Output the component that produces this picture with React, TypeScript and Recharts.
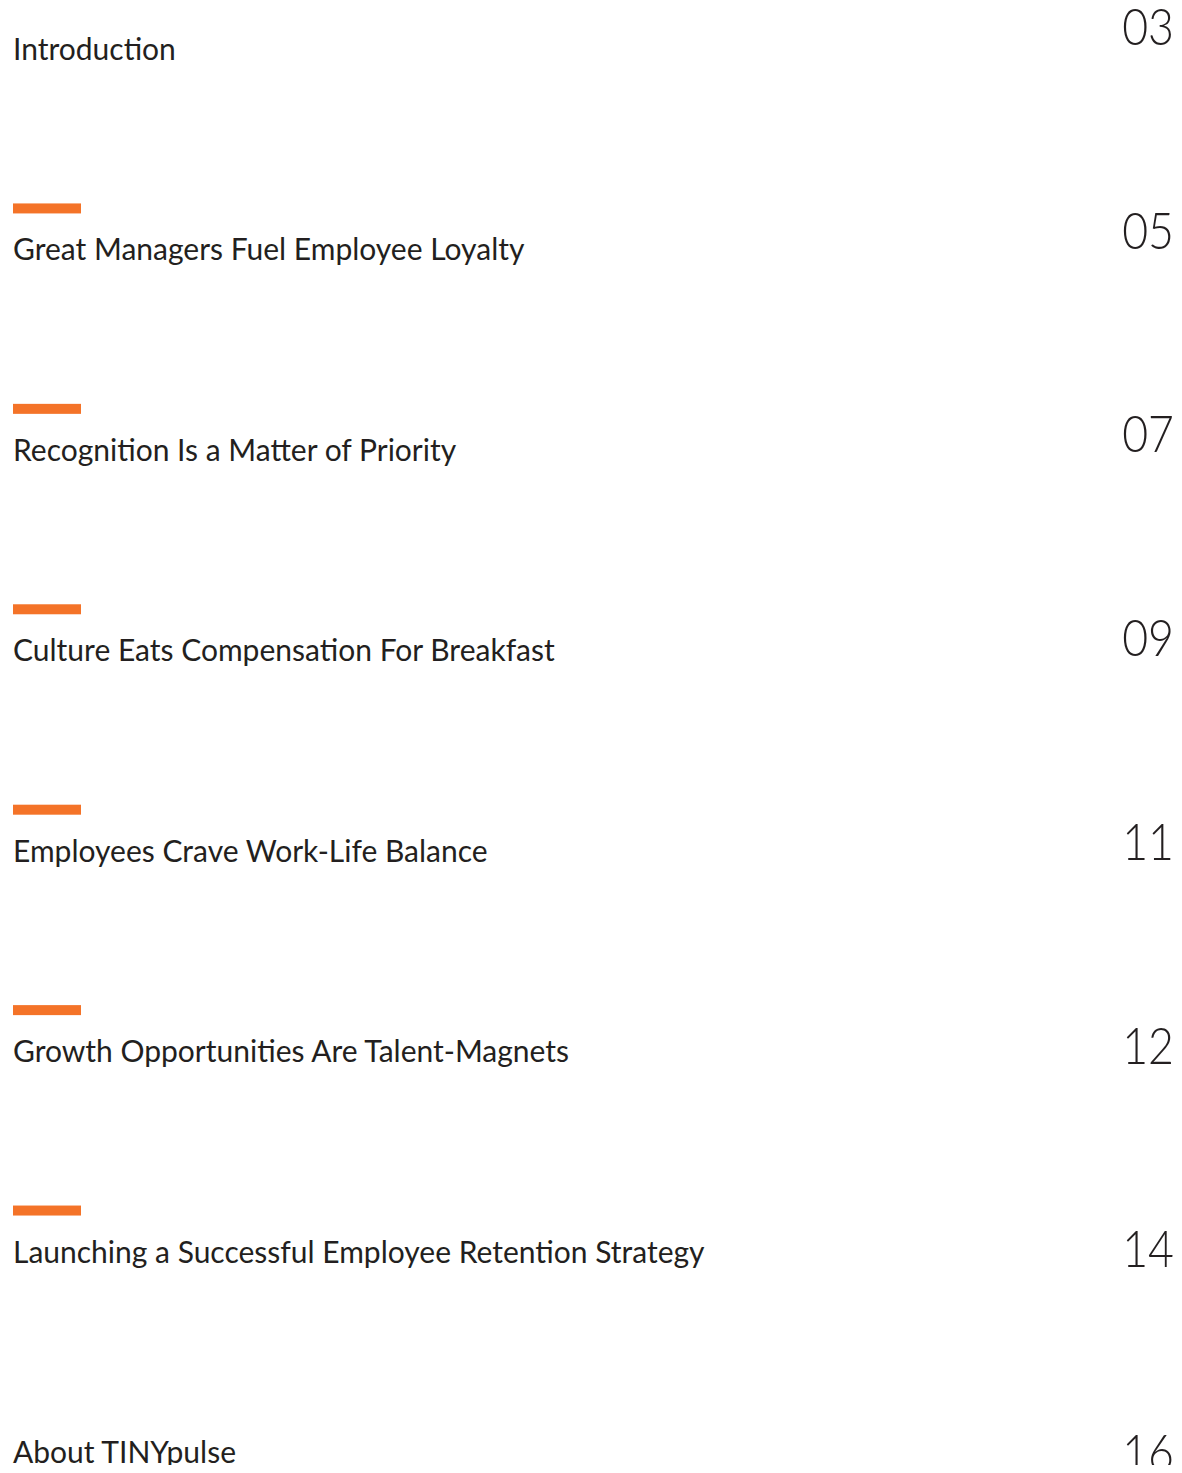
import React from "react";
import { ScatterChart, Scatter, XAxis, YAxis } from "recharts";

const titles = [
  "Introduction",
  "Great Managers Fuel Employee Loyalty",
  "Recognition Is a Matter of Priority",
  "Culture Eats Compensation For Breakfast",
  "Employees Crave Work-Life Balance",
  "Growth Opportunities Are Talent-Magnets",
  "Launching a Successful Employee Retention Strategy",
  "About TINYpulse",
];
const pages = ["03", "05", "07", "09", "11", "12", "14", "16"];
const hasRule = [false, true, true, true, true, true, true, false];

const titleRows = titles.map((t, i) => ({ x: 0, y: i, label: t, rule: hasRule[i] }));
const pageRows = pages.map((p, i) => ({ x: 1, y: i, label: p }));

const TEXT = "#231f20";
const ORANGE = "#f47328";

const TitleShape = (props: any) => {
  const { cx, cy, payload } = props;
  return (
    <g>
      {payload.rule && <rect x={cx} y={cy - 46} width={68} height={10} fill={ORANGE} />}
      <text
        x={cx}
        y={cy + 11}
        fill={TEXT}
        fontFamily="Lato, sans-serif"
        fontSize={30}
        textAnchor="start"
      >
        {payload.label}
      </text>
    </g>
  );
};

const PageShape = (props: any) => {
  const { cx, cy, payload } = props;
  return (
    <text
      transform={`translate(${cx},${cy}) scale(0.86,1)`}
      x={0}
      y={0}
      fill={TEXT}
      fontFamily="Lato, sans-serif"
      fontWeight={300}
      fontSize={52}
      textAnchor="end"
    >
      {payload.label}
    </text>
  );
};

export default function App() {
  return (
    <div style={{ margin: -8, width: 1182, height: 1473, background: "#fff" }}>
      <ScatterChart width={1182} height={1473} margin={{ top: 45, right: 8, bottom: 2, left: 13 }}>
        <XAxis type="number" dataKey="x" domain={[0, 1]} hide />
        <YAxis yAxisId="t" type="number" dataKey="y" domain={[-0.02, 7.095]} reversed hide />
        <YAxis yAxisId="p" type="number" dataKey="y" domain={[0, 7]} reversed hide />
        <Scatter yAxisId="t" data={titleRows} shape={<TitleShape />} isAnimationActive={false} />
        <Scatter yAxisId="p" data={pageRows} shape={<PageShape />} isAnimationActive={false} />
      </ScatterChart>
    </div>
  );
}
